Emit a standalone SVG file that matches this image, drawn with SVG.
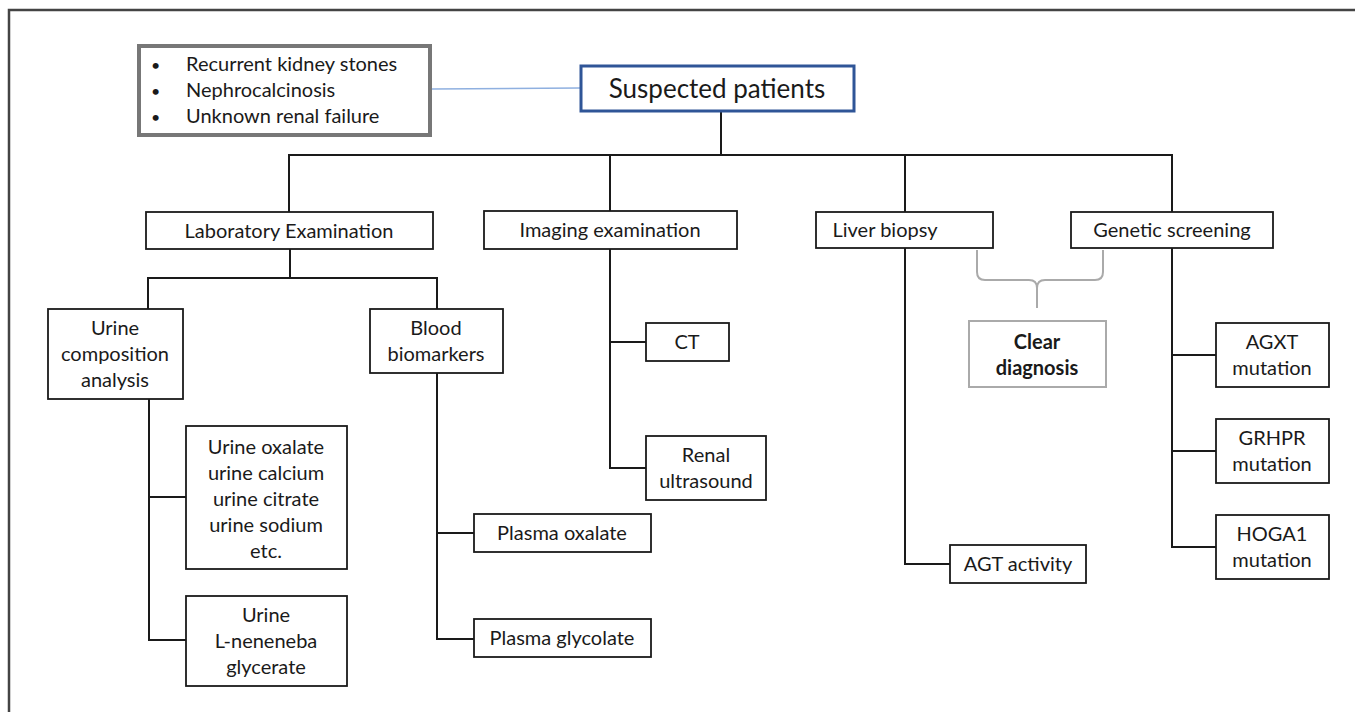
<svg xmlns="http://www.w3.org/2000/svg" width="1355" height="712" viewBox="0 0 1355 712">
<style>
.box{fill:#fff;stroke:#1a1a1a;stroke-width:1.8}
.t{font-family:Lato,"Open Sans",sans-serif;font-size:20px;fill:#1a1a1a;text-anchor:middle}
.c{fill:none;stroke:#1a1a1a;stroke-width:2}
.b{font-family:Lato,"Open Sans",sans-serif;font-size:20px;fill:#1a1a1a}
</style>
<rect x="0" y="0" width="1355" height="712" fill="#fff"/>
<path d="M9 712 V10 H1355" fill="none" stroke="#444" stroke-width="2.5"/>
<g id="connectors">
<line x1="432" y1="89" x2="580" y2="88" stroke="#8fb0e0" stroke-width="1.5"/>
<path class="c" d="M721 111 V155 M289 212 V155 H1172 V212 M610 155 V211 M905 155 V212"/>
<path class="c" d="M290 249 V278 M148 309 V278 H437 V309"/>
<path class="c" d="M149 399 V640 H186 M149 497 H186"/>
<path class="c" d="M437 373 V639 H474 M437 533 H474"/>
<path class="c" d="M610 249 V468 H646 M610 342 H646"/>
<path class="c" d="M905 248 V564 H950"/>
<path class="c" d="M1172 248 V547 H1216 M1172 355 H1216 M1172 451 H1216"/>
<path d="M977 250 V272 Q977 280 985 280 H1029 Q1037 280 1037 288 V308 M1103 250 V272 Q1103 280 1095 280 H1045 Q1037 280 1037 288" fill="none" stroke="#aaa" stroke-width="2"/>
</g>
<g id="criteria">
<rect x="139" y="46" width="291" height="89" fill="#fff" stroke="#777" stroke-width="4"/>
<text class="b" x="151" y="71" style="font-size:16px">•</text><text class="b" x="186" y="71">Recurrent kidney stones</text>
<text class="b" x="151" y="97" style="font-size:16px">•</text><text class="b" x="186" y="97">Nephrocalcinosis</text>
<text class="b" x="151" y="123" style="font-size:16px">•</text><text class="b" x="186" y="123">Unknown renal failure</text>
</g>
<g id="suspected">
<rect x="581" y="66" width="273" height="45" fill="#fff" stroke="#2f5597" stroke-width="3"/>
<text class="t" x="717" y="98" style="font-size:26px">Suspected patients</text>
</g>
<g id="lab"><rect class="box" x="146" y="212" width="287" height="37"/><text class="t" x="289" y="238">Laboratory Examination</text></g>
<g id="imaging"><rect class="box" x="484" y="211" width="253" height="38"/><text class="t" x="610" y="237">Imaging examination</text></g>
<g id="liver"><rect class="box" x="816" y="212" width="177" height="36"/><text class="t" x="885" y="237">Liver biopsy</text></g>
<g id="genetic"><rect class="box" x="1071" y="212" width="202" height="36"/><text class="t" x="1172" y="237">Genetic screening</text></g>
<g id="urinecomp"><rect class="box" x="48" y="309" width="135" height="90"/><text class="t" x="115" y="335">Urine</text><text class="t" x="115" y="361">composition</text><text class="t" x="115" y="387">analysis</text></g>
<g id="blood"><rect class="box" x="370" y="309" width="133" height="64"/><text class="t" x="436" y="335">Blood</text><text class="t" x="436" y="361">biomarkers</text></g>
<g id="ct"><rect class="box" x="646" y="323" width="83" height="38"/><text class="t" x="687" y="349">CT</text></g>
<g id="renal"><rect class="box" x="646" y="436" width="120" height="64"/><text class="t" x="706" y="462">Renal</text><text class="t" x="706" y="488">ultrasound</text></g>
<g id="urineox"><rect class="box" x="186" y="426" width="161" height="143"/>
<text class="t" x="266" y="454">Urine oxalate</text><text class="t" x="266" y="480">urine calcium</text><text class="t" x="266" y="506">urine citrate</text><text class="t" x="266" y="532">urine sodium</text><text class="t" x="266" y="558">etc.</text></g>
<g id="urinegly"><rect class="box" x="186" y="596" width="161" height="90"/><text class="t" x="266" y="622">Urine</text><text class="t" x="266" y="648">L-neneneba</text><text class="t" x="266" y="674">glycerate</text></g>
<g id="plasmaox"><rect class="box" x="474" y="514" width="177" height="38"/><text class="t" x="562" y="540">Plasma oxalate</text></g>
<g id="plasmagly"><rect class="box" x="474" y="619" width="177" height="38"/><text class="t" x="562" y="645">Plasma glycolate</text></g>
<g id="clear"><rect x="969" y="321" width="137" height="66" fill="#fff" stroke="#aaa" stroke-width="2"/><text class="t" x="1037" y="349" font-weight="bold">Clear</text><text class="t" x="1037" y="375" font-weight="bold">diagnosis</text></g>
<g id="agt"><rect class="box" x="950" y="545" width="136" height="38"/><text class="t" x="1018" y="571">AGT activity</text></g>
<g id="agxt"><rect class="box" x="1216" y="323" width="113" height="64"/><text class="t" x="1272" y="349">AGXT</text><text class="t" x="1272" y="375">mutation</text></g>
<g id="grhpr"><rect class="box" x="1216" y="419" width="113" height="64"/><text class="t" x="1272" y="445">GRHPR</text><text class="t" x="1272" y="471">mutation</text></g>
<g id="hoga1"><rect class="box" x="1216" y="515" width="113" height="64"/><text class="t" x="1272" y="541">HOGA1</text><text class="t" x="1272" y="567">mutation</text></g>
</svg>
